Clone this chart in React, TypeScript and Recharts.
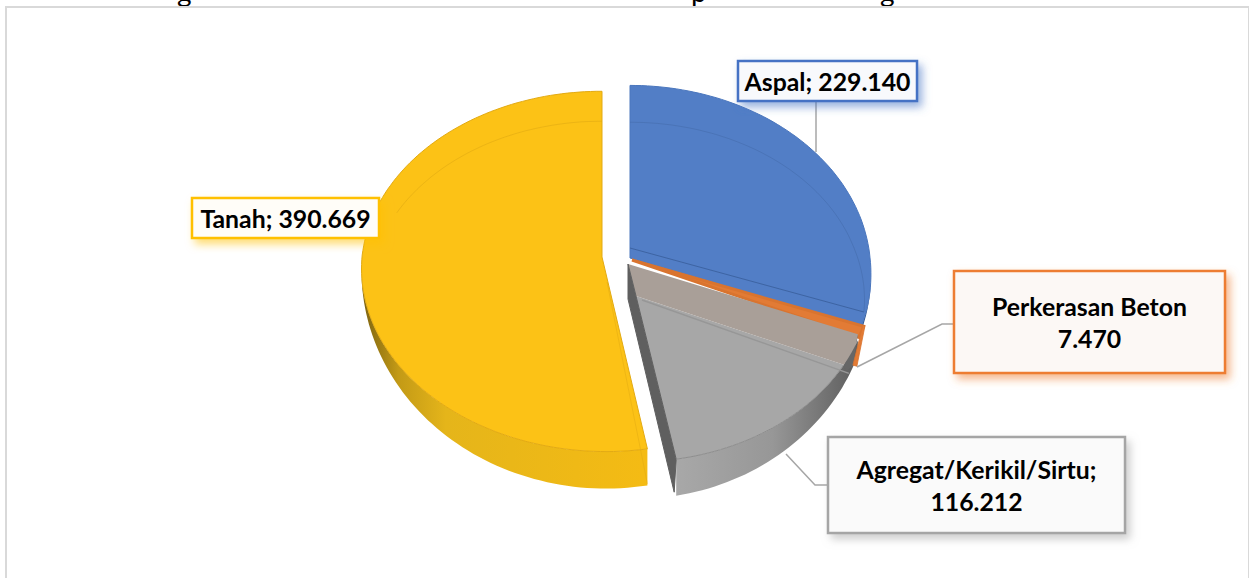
import { PieChart, Pie } from "recharts";

const surfaceNames = ["Aspal", "Perkerasan Beton", "Agregat/Kerikil/Sirtu", "Tanah"];
const surfaceLengths = [229140, 7470, 116212, 390669];
const sliceColors = ["#527ec6", "#e27b35", "#a7a7a7", "#fcc216"];
const borderColors = ["#4472c4", "#ed7d31", "#a5a5a5", "#ffc000"];
const boxFills = ["#f8f9fc", "#fcf8f5", "#fafafa", "#fffdf8"];

const data = surfaceNames.map((name, i) => ({ name, value: surfaceLengths[i] }));

const WIDTH = 1249;
const HEIGHT = 578;
const RAD = Math.PI / 180;
const WALL = 37;
const SHEAR = 4;

// exploded offset and vertical squash of every slice
const sliceShift = [
  { dx: 0, dy: 0, a: 185, k: 0.072 },
  { dx: 2, dy: 2, a: 180.5, k: 0.074 },
  { dx: 1, dy: 2, a: 187, k: 0.074 },
  { dx: -28, dy: -1, a: 179, k: 0.08 },
];

const labelBoxes = [
  { x: 738, y: 61, w: 179, h: 40, leader: "M816 101 L816 152" },
  { x: 954, y: 271, w: 271, h: 102, leader: "M954 324 L942 324 L857 367" },
  { x: 828, y: 437, w: 297, h: 96, leader: "M828 485 L815 485 L786 454" },
  { x: 192, y: 198, w: 187, h: 40, leader: "" },
];

const fmt = (v: number) => String(v).replace(/\B(?=(\d{3})+$)/g, ".");

const labelLines = (i: number) => {
  const v = fmt(surfaceLengths[i]);
  if (i === 1) return [surfaceNames[i], v];
  if (i === 2) return [surfaceNames[i] + ";", v];
  return [`${surfaceNames[i]}; ${v}`];
};

type Pt = [number, number];

function project(cx: number, cy: number, r: number, a: number, k: number, deg: number): Pt {
  const x = Math.cos(deg * RAD);
  const y = -Math.sin(deg * RAD);
  const d = 1 - k * y;
  return [cx + (r * x) / d + SHEAR * Math.max(0, y), cy + (a * y) / d];
}

function arc(cx: number, cy: number, r: number, a: number, k: number, from: number, to: number): Pt[] {
  const n = Math.max(2, Math.ceil(Math.abs(from - to) / 1.5));
  const pts: Pt[] = [];
  for (let i = 0; i <= n; i++) pts.push(project(cx, cy, r, a, k, from + ((to - from) * i) / n));
  return pts;
}

const toPath = (pts: Pt[], close = true) =>
  pts.map((p, i) => `${i ? "L" : "M"}${p[0].toFixed(1)} ${p[1].toFixed(1)}`).join(" ") + (close ? " Z" : "");

const wallDrop = (deg: number) => WALL * Math.max(0, -Math.sin(deg * RAD));

function Slice3D(props: any) {
  const { cx, cy, outerRadius: r, startAngle, endAngle, index } = props;
  const s = sliceShift[index];
  const fill = sliceColors[index];
  const ox = cx + s.dx;
  const oy = cy + s.dy;
  const top = arc(ox, oy, r, s.a, s.k, startAngle, endAngle);

  // outer wall: only the front half of the rim shows
  const wallFrom = Math.min(startAngle, 0);
  const wallTo = Math.max(endAngle, -180);
  const wallScale = index === 0 ? 0.35 : 1;
  let wall = "";
  if (wallFrom > wallTo) {
    const n = Math.ceil((wallFrom - wallTo) / 1.5);
    const upper: Pt[] = [];
    const lower: Pt[] = [];
    for (let i = 0; i <= n; i++) {
      const d = wallFrom + ((wallTo - wallFrom) * i) / n;
      const p = project(ox, oy, r, s.a, s.k, d);
      upper.push(p);
      lower.push([p[0], p[1] + wallDrop(d) * wallScale]);
    }
    wall = toPath([...upper, ...lower.reverse()]);
  }

  if (index === 0) {
    const back = arc(ox, oy - 10, r - 16, 161, 0.28, startAngle, endAngle);
    const backEnd = back[back.length - 1];
    return (
      <g>
        <path d={wall} fill="#2f5590" />
        <path d={toPath([[ox, oy], ...top])} fill={fill} stroke="#4a76bd" strokeWidth={1} />
        <path d={toPath(back, false)} fill="none" stroke="#3f659f" strokeOpacity={0.4} strokeWidth={1} />
        <path d={toPath([[ox, oy - 10], backEnd], false)} fill="none" stroke="#3a5f9c" strokeOpacity={0.85} strokeWidth={1} />
      </g>
    );
  }

  if (index === 1) {
    return (
      <g>
        <path d={toPath([[ox, oy], ...top])} fill={fill} stroke="#d9742f" strokeWidth={3} strokeLinejoin="miter" />
      </g>
    );
  }

  if (index === 2) {
    const outerApex: Pt = [ox - 3, oy + 4];
    const innerApex: Pt = [ox + 5, oy + 36];
    const bandEnd = startAngle - 8;
    const rim = arc(ox, oy, r, s.a, s.k, bandEnd, endAngle);
    const bandRim = arc(ox, oy, r, s.a, s.k, startAngle, bandEnd);
    const end = project(ox, oy, r, s.a, s.k, endAngle);
    const endLow: Pt = [end[0] - 2, end[1] + WALL - 4];
    const leftRim = project(ox, oy, r, s.a, s.k, startAngle);
    const bandTop: Pt = [leftRim[0], leftRim[1] - 6];
    const bandLow = bandRim[bandRim.length - 1];
    // the orange slice's rim falls in front of this slice
    const sliver: Pt[] = [
      [bandTop[0] + 5, bandTop[1] - 9],
      [bandTop[0] + 7, bandTop[1] - 8],
      [bandTop[0] - 1, bandTop[1] + 32],
      [bandTop[0] - 5, bandTop[1] + 31],
    ];
    return (
      <g>
        <defs>
          <linearGradient id="greyWall" gradientUnits="userSpaceOnUse" x1={ox + 40} y1={0} x2={ox + 225} y2={0}>
            <stop offset="0" stopColor="#a9a9a9" />
            <stop offset="0.55" stopColor="#979797" />
            <stop offset="1" stopColor="#5e5e5e" />
          </linearGradient>
        </defs>
        <path d={wall} fill="url(#greyWall)" />
        <path
          d={toPath([bandTop, [bandTop[0] - 5, bandTop[1] + 32], [bandLow[0] + 2, bandLow[1] + 6], bandLow])}
          fill="#666"
        />
        <path d={toPath([innerApex, ...rim])} fill={fill} />
        <path d={toPath([outerApex, bandTop, ...bandRim.slice(1), innerApex])} fill="#a99f98" />
        <path
          d={toPath([outerApex, innerApex, end, endLow, [outerApex[0], outerApex[1] + 35]])}
          fill="#5f5f5f"
          stroke="#5f5f5f"
          strokeWidth={1}
        />
        <path
          d={toPath([[innerApex[0] + 6, innerApex[1] + 4], project(ox, oy + 30, r - 8, s.a, s.k, startAngle - 1)], false)}
          stroke="#979797"
          strokeWidth={1.5}
          fill="none"
        />
        <path d={toPath(rim, false)} fill="none" stroke="#8d8d8d" strokeWidth={1} />
        <path d={toPath(sliver)} fill={sliceColors[1]} stroke="#d9742f" strokeWidth={0.8} />
      </g>
    );
  }

  const end = project(ox, oy, r, s.a, s.k, startAngle);
  const back = arc(ox, oy - 10, r - 16, 161, 0.28, endAngle, -193);
  return (
    <g>
      <defs>
        <linearGradient id="yellowWall" gradientUnits="userSpaceOnUse" x1={ox - 240} y1={0} x2={ox + 40} y2={0}>
          <stop offset="0" stopColor="#7d6311" />
          <stop offset="0.13" stopColor="#c39a16" />
          <stop offset="0.3" stopColor="#e5b51a" />
          <stop offset="1" stopColor="#f4bb14" />
        </linearGradient>
      </defs>
      <path d={wall} fill="url(#yellowWall)" />
      <path d={toPath([[ox, oy], ...top])} fill={fill} stroke="#e3aa12" strokeWidth={1} />
      <path d={toPath(back, false)} fill="none" stroke="#dca512" strokeOpacity={0.5} strokeWidth={1} />
      <path
        d={toPath([[ox + 5, oy + 25], [end[0], end[1] + WALL - 2]], false)}
        fill="none"
        stroke="#dca512"
        strokeOpacity={0.4}
        strokeWidth={1}
      />
    </g>
  );
}

function SliceLabel(props: any) {
  const i: number = props.index;
  const box = labelBoxes[i];
  const lines = labelLines(i);
  const midY = box.y + box.h / 2;
  const lineGap = 32;
  return (
    <g>
      <defs>
        <filter id={`boxShadow${i}`} x="-20%" y="-30%" width="140%" height="170%">
          <feDropShadow dx={4} dy={5} stdDeviation={4} floodColor={borderColors[i]} floodOpacity={0.55} />
        </filter>
      </defs>
      {box.leader ? <path d={box.leader} fill="none" stroke="#a6a6a6" strokeWidth={1.5} /> : null}
      <rect
        x={box.x}
        y={box.y}
        width={box.w}
        height={box.h}
        fill={boxFills[i]}
        stroke={borderColors[i]}
        strokeWidth={2.5}
        filter={`url(#boxShadow${i})`}
      />
      {lines.map((line, j) => (
        <text
          key={line}
          x={box.x + box.w / 2}
          y={midY + (j - (lines.length - 1) / 2) * lineGap}
          textAnchor="middle"
          dominantBaseline="central"
          fontFamily="Lato, 'Open Sans', sans-serif"
          fontWeight={700}
          fontSize={24.8}
          fill="#000"
        >
          {line}
        </text>
      ))}
    </g>
  );
}

// only the descenders of the cropped title line show at the top edge
const titleScraps = [
  { ch: "g", x: 177 },
  { ch: "p", x: 691 },
  { ch: "g", x: 880 },
];

export default function App() {
  return (
    <div style={{ position: "absolute", left: 0, top: 0, width: WIDTH, height: HEIGHT, overflow: "hidden", background: "#fff" }}>
      <style>{"body{margin:0;background:#fff}"}</style>
      {titleScraps.map((t) => (
        <span
          key={t.x}
          style={{ position: "absolute", left: t.x, top: -23, fontFamily: "Lato, sans-serif", fontSize: 28, lineHeight: "28px", color: "#000" }}
        >
          {t.ch}
        </span>
      ))}
      <div style={{ position: "absolute", left: 5, top: 6, width: 1241, height: 640, border: "2px solid #d9d9d9" }} />
      <div style={{ position: "absolute", left: 0, top: 0 }}>
        <PieChart width={WIDTH} height={HEIGHT} margin={{ top: 0, right: 0, bottom: 0, left: 0 }}>
          <Pie
            data={data}
            dataKey="value"
            nameKey="name"
            cx={630}
            cy={258}
            innerRadius={0}
            outerRadius={240}
            startAngle={90}
            endAngle={-270}
            paddingAngle={0}
            stroke="none"
            labelLine={false}
            label={SliceLabel}
            shape={Slice3D}
            isAnimationActive={false}
          />
        </PieChart>
      </div>
    </div>
  );
}
